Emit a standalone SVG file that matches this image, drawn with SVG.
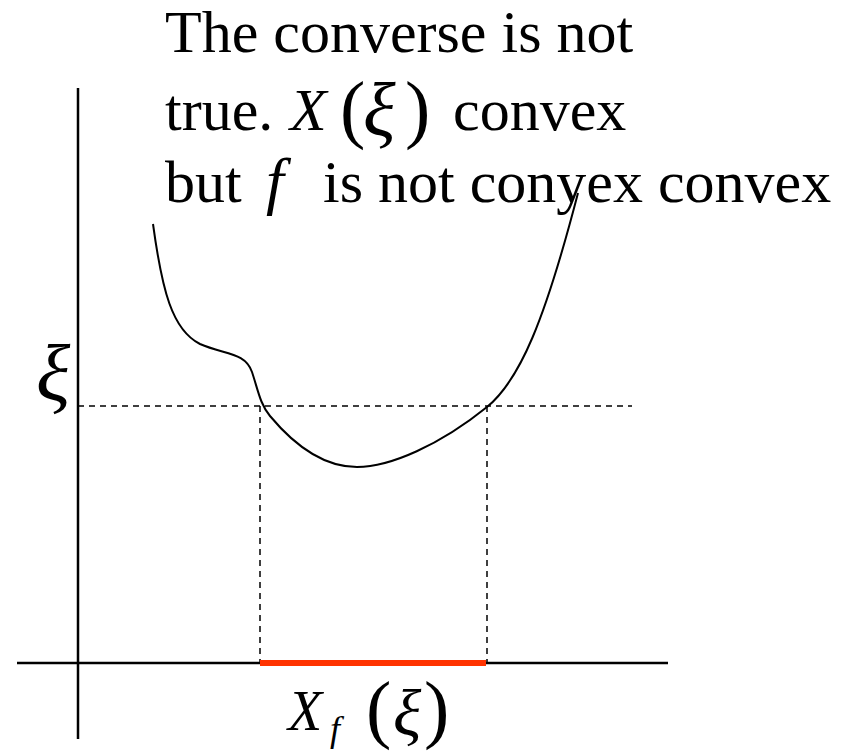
<svg xmlns="http://www.w3.org/2000/svg" width="853" height="752" viewBox="0 0 853 752">
<style>
.t{font-family:"Liberation Serif","Times New Roman",serif;font-size:60px;fill:#000}
.i{font-style:italic}
.ax{stroke:#000;stroke-width:2.5;fill:none}
.da{stroke:#000;stroke-width:1.5;stroke-dasharray:6 5;fill:none}
</style>
<rect width="853" height="752" fill="#fff"/>
<g id="axes">
<line class="ax" x1="78" y1="88" x2="78" y2="739"/>
<line class="ax" x1="17" y1="663" x2="668" y2="663"/>
</g>
<g id="guides">
<line class="da" x1="78" y1="406" x2="632" y2="406"/>
<line class="da" x1="260" y1="406" x2="260" y2="662"/>
<line class="da" x1="487" y1="406" x2="487" y2="662"/>
</g>
<g id="interval">
<line x1="260" y1="663" x2="486" y2="663" stroke="#ff3300" stroke-width="6"/>
</g>
<g id="curve">
<path d="M153,224 C162,290 172,330 200,344 C225,355 245,352 252,372 C258,390 260,404 270,416 C290,440 320,467 357,467 C390,467 440,445 487,407 C520,380 545,320 578,193" fill="none" stroke="#000" stroke-width="2"/>
</g>
<g id="caption">
<text class="t" x="165" y="52">The converse is not</text>
<text class="t" x="165" y="130">true.</text>
<text class="t i" x="290" y="130">X</text>
<text class="t" x="340" y="134" style="font-size:76px">(</text>
<text class="t i" x="363" y="136" style="font-size:76px">ξ</text>
<text class="t" x="405" y="134" style="font-size:76px">)</text>
<text class="t" x="453" y="130">convex</text>
<text class="t" x="165" y="202">but</text>
<text class="t i" x="266" y="202" style="font-size:64px">f</text>
<text class="t" x="323" y="202">is not conyex convex</text>
</g>
<g id="ylabel">
<text class="t i" x="36" y="400" style="font-size:80px">ξ</text>
</g>
<g id="xlabel">
<text class="t i" x="288" y="730" style="font-size:56px">X</text>
<text class="t i" x="330" y="741" style="font-size:36px">f</text>
<text class="t" x="366" y="734" style="font-size:76px">(</text>
<text class="t i" x="393" y="735" style="font-size:66px">ξ</text>
<text class="t" x="424" y="734" style="font-size:76px">)</text>
</g>
</svg>
